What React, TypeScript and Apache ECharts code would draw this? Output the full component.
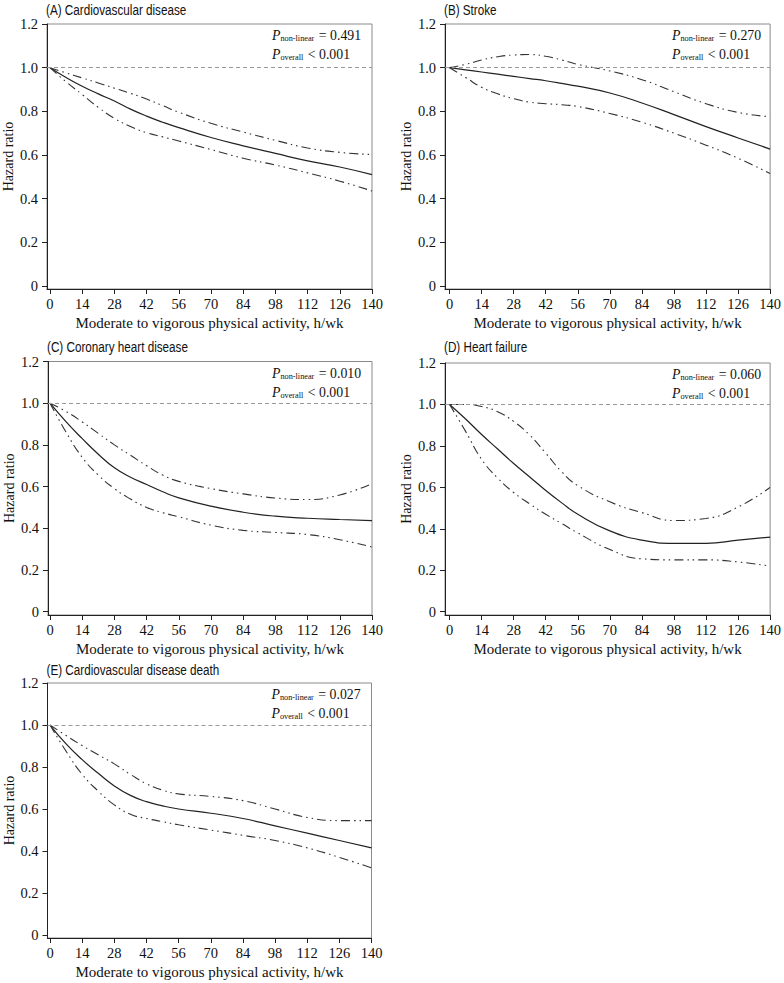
import React, { useEffect, useRef } from "react";
import * as echarts from "echarts";

const hours = [0, 7, 14, 21, 28, 35, 42, 49, 56, 70, 84, 98, 112, 126, 140];
const xTicks = [0, 14, 28, 42, 56, 70, 84, 98, 112, 126, 140];
const yTicks = [0, 0.2, 0.4, 0.6, 0.8, 1.0, 1.2];

const panelTitles = [
  "(A) Cardiovascular disease",
  "(B) Stroke",
  "(C) Coronary heart disease",
  "(D) Heart failure",
  "(E) Cardiovascular disease death",
];
const pNonLinear = ["0.491", "0.270", "0.010", "0.060", "0.027"];
const pOverall = ["< 0.001", "< 0.001", "< 0.001", "< 0.001", "< 0.001"];

// (A) Cardiovascular disease
const cvdHR = [1.0, 0.955, 0.915, 0.88, 0.847, 0.81, 0.778, 0.75, 0.725, 0.68, 0.642, 0.607, 0.573, 0.545, 0.51];
const cvdUpper = [1.0, 0.976, 0.953, 0.93, 0.906, 0.882, 0.856, 0.826, 0.796, 0.745, 0.705, 0.667, 0.632, 0.612, 0.602];
const cvdLower = [1.0, 0.935, 0.877, 0.818, 0.768, 0.73, 0.702, 0.683, 0.664, 0.625, 0.585, 0.554, 0.518, 0.48, 0.435];

// (B) Stroke
const strokeHR = [1.0, 0.99, 0.98, 0.97, 0.96, 0.95, 0.94, 0.928, 0.915, 0.884, 0.838, 0.785, 0.73, 0.678, 0.627];
const strokeUpper = [1.0, 1.015, 1.035, 1.05, 1.058, 1.06, 1.052, 1.035, 1.015, 0.985, 0.945, 0.89, 0.835, 0.795, 0.775];
const strokeLower = [1.0, 0.955, 0.91, 0.88, 0.858, 0.842, 0.835, 0.83, 0.822, 0.79, 0.75, 0.7, 0.645, 0.585, 0.515];

// (C) Coronary heart disease
const chdHR = [1.0, 0.91, 0.83, 0.755, 0.69, 0.645, 0.61, 0.575, 0.546, 0.506, 0.477, 0.458, 0.448, 0.442, 0.437];
const chdUpper = [1.0, 0.96, 0.91, 0.855, 0.8, 0.75, 0.7, 0.655, 0.625, 0.59, 0.565, 0.545, 0.538, 0.56, 0.614];
const chdLower = [1.0, 0.86, 0.74, 0.655, 0.59, 0.54, 0.5, 0.475, 0.455, 0.415, 0.39, 0.38, 0.37, 0.345, 0.31];

// (D) Heart failure
const hfHR = [1.0, 0.93, 0.855, 0.785, 0.715, 0.65, 0.585, 0.525, 0.47, 0.39, 0.345, 0.33, 0.33, 0.345, 0.36];
const hfUpper = [1.0, 1.0, 0.99, 0.965, 0.918, 0.852, 0.765, 0.675, 0.608, 0.53, 0.478, 0.44, 0.45, 0.505, 0.6];
const hfLower = [1.0, 0.87, 0.735, 0.645, 0.575, 0.52, 0.47, 0.425, 0.38, 0.3, 0.255, 0.25, 0.25, 0.24, 0.22];

// (E) Cardiovascular disease death
const cvdDeathHR = [1.0, 0.91, 0.835, 0.77, 0.71, 0.665, 0.635, 0.615, 0.6, 0.58, 0.555, 0.52, 0.485, 0.45, 0.415];
const cvdDeathUpper = [1.0, 0.95, 0.902, 0.858, 0.815, 0.765, 0.72, 0.69, 0.672, 0.66, 0.64, 0.6, 0.56, 0.545, 0.545];
const cvdDeathLower = [1.0, 0.875, 0.765, 0.685, 0.62, 0.575, 0.555, 0.54, 0.525, 0.5, 0.475, 0.45, 0.415, 0.37, 0.32];

const hrSets = [cvdHR, strokeHR, chdHR, hfHR, cvdDeathHR];
const upperSets = [cvdUpper, strokeUpper, chdUpper, hfUpper, cvdDeathUpper];
const lowerSets = [cvdLower, strokeLower, chdLower, hfLower, cvdDeathLower];

const SERIF = "'Liberation Serif', 'Times New Roman', serif";
const SANS = "'Liberation Sans', Arial, sans-serif";

// layout of each panel (plot box in px)
const boxes = [
  { left: 47, top: 24, width: 325, height: 265, xmin: -1.3, ymin: -0.014, titleDy: -14.5 },
  { left: 445, top: 24, width: 327, height: 265, xmin: -2, ymin: -0.014, titleDy: -14.5 },
  { left: 48, top: 361.5, width: 324, height: 253.5, xmin: -0.9, ymin: -0.016, titleDy: -15 },
  { left: 445, top: 363, width: 327, height: 252, xmin: -2, ymin: -0.016, titleDy: -16 },
  { left: 47.5, top: 683, width: 324, height: 255, xmin: -1.1, ymin: -0.014, titleDy: -13 },
];

const pair = (ys: number[]) => hours.map((h, i) => [h, ys[i]]);

export default function App() {
  const ref = useRef<HTMLDivElement>(null);
  useEffect(() => {
    if (!ref.current) return;
    const chart = echarts.init(ref.current, undefined, { renderer: "svg" });

    const grid: any[] = [];
    const xAxis: any[] = [];
    const yAxis: any[] = [];
    const series: any[] = [];
    const graphic: any[] = [];
    const ciStyle = { color: "#333", width: 1.1, type: [9, 4, 1.5, 4, 1.5, 4] };

    boxes.forEach((b, i) => {
      grid.push({
        left: b.left,
        top: b.top,
        width: b.width,
        height: b.height,
        show: true,
        borderColor: "#8a8a8a",
        borderWidth: 1,
        backgroundColor: "transparent",
        containLabel: false,
      });
      xAxis.push({
        type: "value",
        gridIndex: i,
        min: b.xmin,
        max: 140,
        axisLine: { show: true, onZero: false, lineStyle: { color: "#222", width: 1 } },
        axisTick: { show: true, length: 5, customValues: xTicks, lineStyle: { color: "#222" } },
        axisLabel: {
          customValues: xTicks,
          margin: 7,
          fontFamily: SERIF,
          fontSize: 14.5,
          color: "#111",
        },
        splitLine: { show: false },
        name: "Moderate to vigorous physical activity, h/wk",
        nameLocation: "middle",
        nameGap: 26,
        nameTextStyle: { fontFamily: SERIF, fontSize: 15, color: "#111" },
      });
      yAxis.push({
        type: "value",
        gridIndex: i,
        min: b.ymin,
        max: 1.2,
        axisLine: { show: true, onZero: false, lineStyle: { color: "#222", width: 1 } },
        axisTick: { show: true, length: 5, customValues: yTicks, lineStyle: { color: "#222" } },
        axisLabel: {
          customValues: yTicks,
          margin: 9,
          fontFamily: SERIF,
          fontSize: 14.5,
          color: "#111",
          formatter: (v: number) => (Math.abs(v) < 1e-9 ? "0" : v.toFixed(1)),
        },
        splitLine: { show: false },
        name: "Hazard ratio",
        nameLocation: "middle",
        nameGap: 30,
        nameRotate: 90,
        nameTextStyle: { fontFamily: SERIF, fontSize: 14, color: "#111" },
      });

      series.push({
        type: "line",
        xAxisIndex: i,
        yAxisIndex: i,
        data: pair(hrSets[i]),
        smooth: 0.5,
        showSymbol: false,
        symbol: "none",
        lineStyle: { color: "#222", width: 1.2, type: "solid" },
        z: 3,
        markLine: {
          silent: true,
          symbol: "none",
          label: { show: false },
          lineStyle: { color: "#999", width: 1, type: [4, 3] },
          data: [{ yAxis: 1 }],
        },
      });
      series.push({
        type: "line",
        xAxisIndex: i,
        yAxisIndex: i,
        data: pair(upperSets[i]),
        smooth: 0.5,
        showSymbol: false,
        symbol: "none",
        lineStyle: ciStyle,
      });
      series.push({
        type: "line",
        xAxisIndex: i,
        yAxisIndex: i,
        data: pair(lowerSets[i]),
        smooth: 0.5,
        showSymbol: false,
        symbol: "none",
        lineStyle: ciStyle,
      });

      // panel title
      graphic.push({
        type: "text",
        x: b.left - 1,
        y: b.top + b.titleDy,
        scaleX: 0.78,
        style: {
          text: panelTitles[i],
          fontFamily: SANS,
          fontSize: 15,
          fill: "#111",
          verticalAlign: "middle",
          align: "left",
        },
      });
      // annotations
      const ax = b.left + b.width - 100;
      const rich = {
        p: { fontFamily: SERIF, fontStyle: "italic", fontSize: 15, fill: "#111" },
        s: { fontFamily: SERIF, fontSize: 9, fill: "#111", verticalAlign: "bottom", padding: [0, 1, 0, 0] },
        n: { fontFamily: SERIF, fontSize: 15, fill: "#111" },
      };
      graphic.push({
        type: "text",
        x: ax,
        y: b.top + 11,
        scaleX: 0.92,
        style: {
          text: `{p|P}{s|non-linear}{n| = ${pNonLinear[i]}}`,
          rich,
          verticalAlign: "middle",
          align: "left",
        },
      });
      graphic.push({
        type: "text",
        x: ax,
        y: b.top + 30,
        scaleX: 0.92,
        style: {
          text: `{p|P}{s|overall}{n| ${pOverall[i]}}`,
          rich,
          verticalAlign: "middle",
          align: "left",
        },
      });
    });

    chart.setOption({
      animation: false,
      backgroundColor: "#fff",
      grid,
      xAxis,
      yAxis,
      series,
      graphic,
    });
    return () => chart.dispose();
  }, []);

  return (
    <div
      ref={ref}
      style={{ position: "absolute", left: 0, top: 0, width: 784, height: 983 }}
    />
  );
}
